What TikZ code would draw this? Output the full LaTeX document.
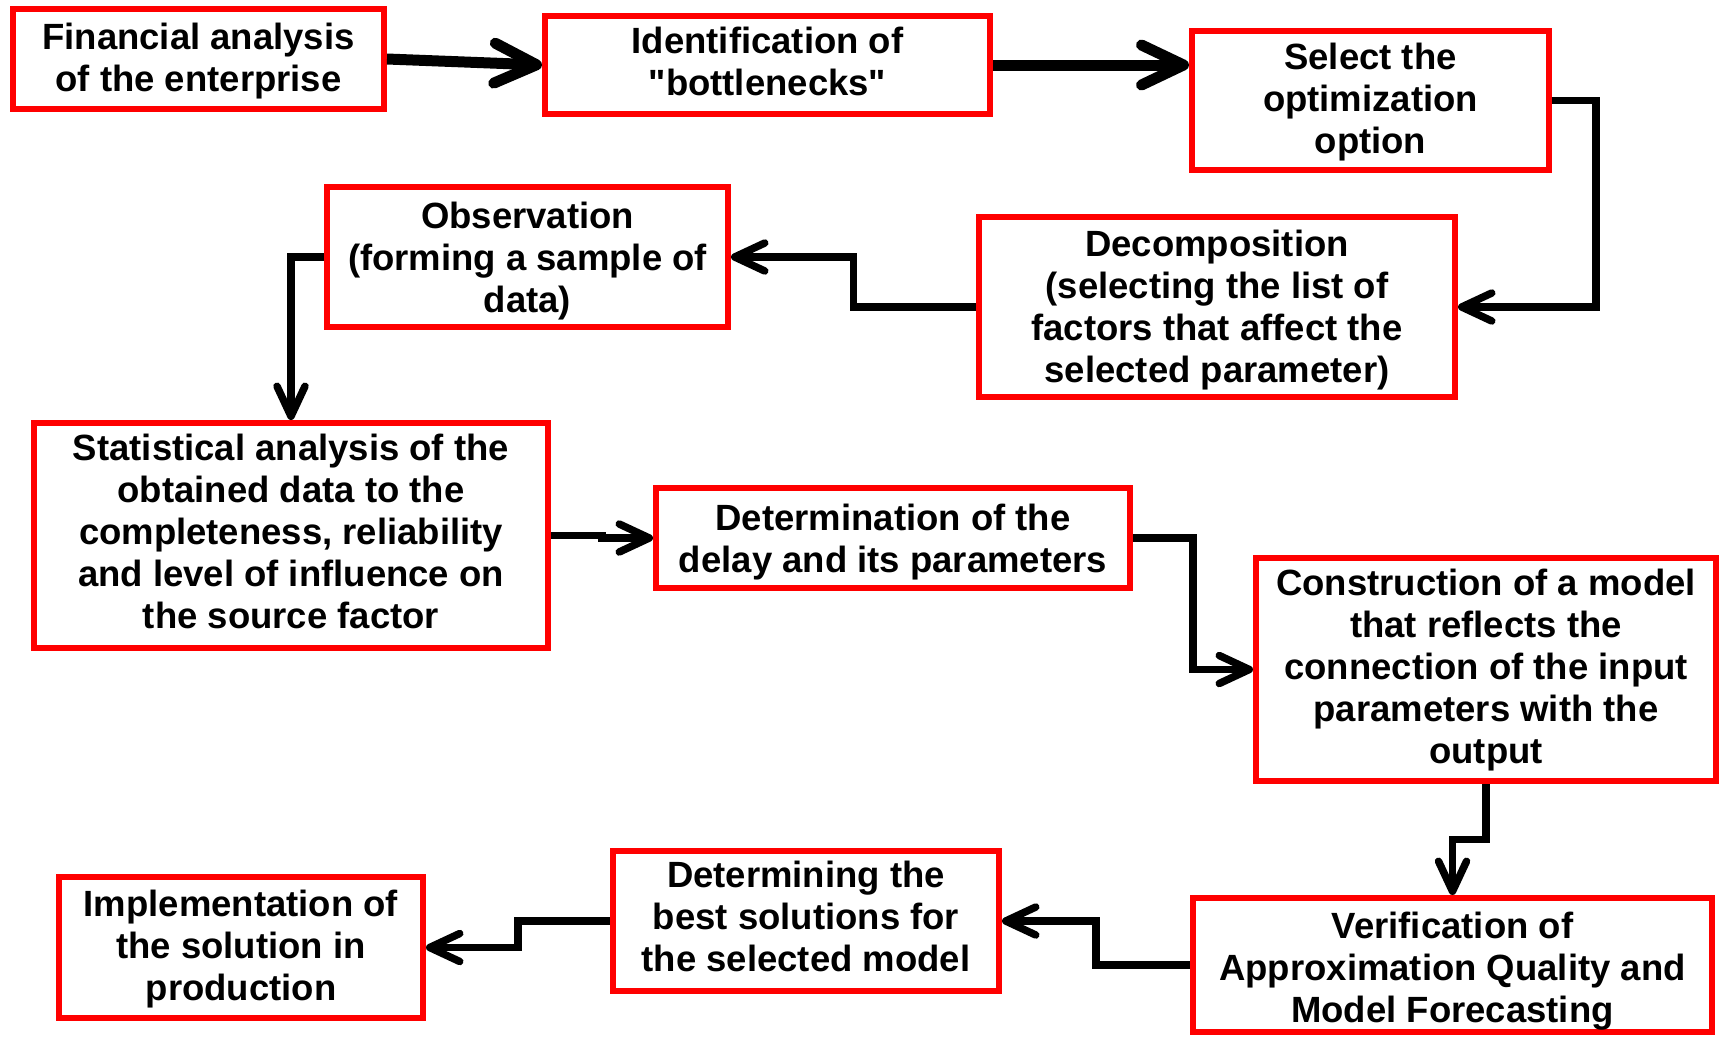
\documentclass[tikz,border=0pt]{standalone}
\usepackage{fontspec}
\setmainfont{Liberation Sans}[Ligatures=TeXOff]
\usetikzlibrary{arrows.meta,calc}
\newcommand\bxtxt[2]{\raisebox{#1}[\height][\depth]{\begin{tabular}{@{}c@{}}#2\end{tabular}}}
\begin{document}
\begin{tikzpicture}[x=1pt,y=-1pt,
  box/.style={draw=red, line width=6pt, fill=white, align=center, inner sep=0pt,
    font=\bfseries\fontsize{36.5}{42}\selectfont, text=black},
  conn/.style={draw=black, line width=7.5pt, -{Straight Barb[length=30pt,width=28pt,round]}},
  bigconn/.style={draw=black, line width=11pt, -{Straight Barb[length=42pt,width=40pt,round]}}]
\useasboundingbox (0,0) rectangle (1723,1037);
\node[box, minimum width=371pt, minimum height=100pt] (fin) at (198.5,59) {\bxtxt{-3pt}{Financial analysis\\of the enterprise}};
\node[box, minimum width=445pt, minimum height=98pt] (ident) at (767.5,65) {\bxtxt{-1pt}{Identification of\\"bottlenecks"}};
\node[box, minimum width=357pt, minimum height=139pt] (sel) at (1370.5,100.5) {\bxtxt{-3pt}{Select the\\optimization\\option}};
\node[box, minimum width=476pt, minimum height=180pt] (dec) at (1217,307) {\bxtxt{-4pt}{Decomposition\\(selecting the list of\\factors that affect the\\selected parameter)}};
\node[box, minimum width=401pt, minimum height=140pt] (obs) at (527.5,257) {\bxtxt{-5.5pt}{Observation\\(forming a sample of\\data)}};
\node[box, minimum width=514pt, minimum height=225pt] (stat) at (291,535.5) {\bxtxt{-1pt}{Statistical analysis of the\\obtained data to the\\completeness, reliability\\and level of influence on\\the source factor}};
\node[box, minimum width=474pt, minimum height=100pt] (det) at (893,538) {\bxtxt{-5pt}{Determination of the\\delay and its parameters}};
\node[box, minimum width=460pt, minimum height=223pt] (cons) at (1486,669.5) {\bxtxt{-2pt}{Construction of a model\\that reflects the\\connection of the input\\parameters with the\\output}};
\node[box, minimum width=519pt, minimum height=134pt] (ver) at (1452.5,965) {\bxtxt{-7pt}{Verification of\\Approximation Quality and\\Model Forecasting}};
\node[box, minimum width=386pt, minimum height=140pt] (best) at (806,921) {\bxtxt{0pt}{Determining the\\best solutions for\\the selected model}};
\node[box, minimum width=364pt, minimum height=141pt] (impl) at (241,947.5) {\bxtxt{-3pt}{Implementation of\\the solution in\\production}};

\draw[bigconn] (fin.east) -- (ident.west);
\draw[bigconn] (ident.east) -- (ident.east -| sel.west);
\coordinate (selout) at ($(sel.east)+(44,0)$);
\draw[conn] (sel.east) -- (selout) |- (dec.east);
\draw[conn] (dec.west) -| ($(dec.west)!0.5!(obs.east)$) |- (obs.east);
\draw[conn] (obs.west) -| (stat.north);
\draw[conn] (stat.east) -| ($(stat.east)!0.5!(det.west)$) |- (det.west);
\draw[conn] (det.east) -| ($(det.east)!0.5!(cons.west)$) |- (cons.west);
\draw[conn] (cons.south) |- ($(cons.south)!0.5!(ver.north)$) -| (ver.north);
\draw[conn] (ver.west) -| ($(ver.west)!0.5!(best.east)$) |- (best.east);
\draw[conn] (best.west) -| ($(best.west)!0.5!(impl.east)$) |- (impl.east);
\end{tikzpicture}
\end{document}
